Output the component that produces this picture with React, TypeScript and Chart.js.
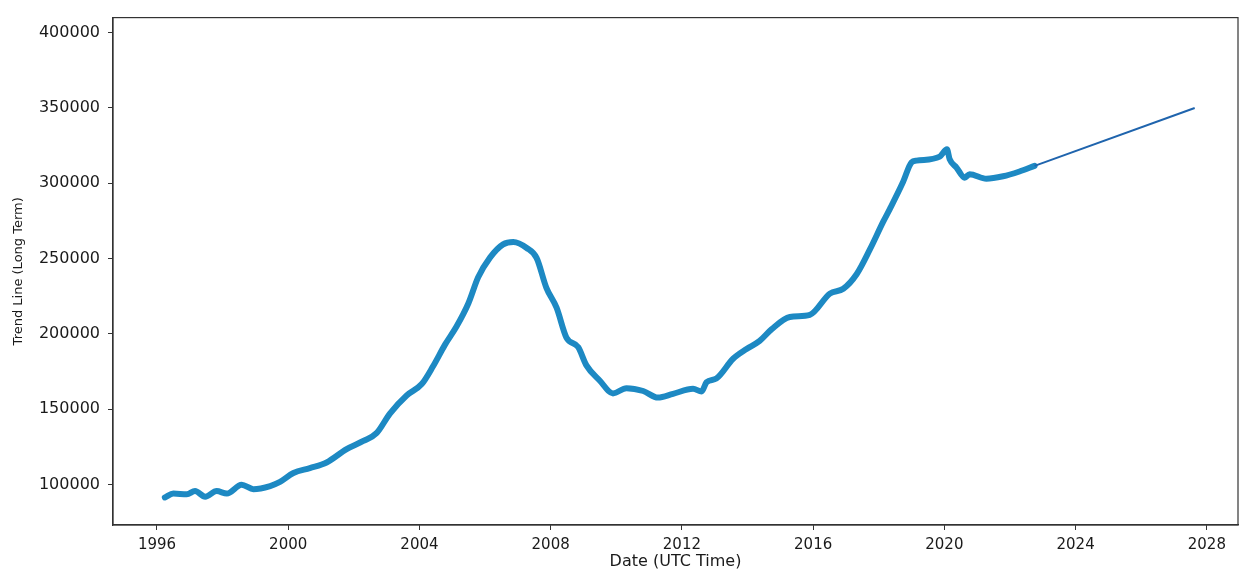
import React, { useEffect, useRef } from "react";
import { Chart, registerables } from "chart.js";

Chart.register(...registerables);

// Long-term trend
const mainYears = [
  1996.24, 1996.5, 1996.91, 1997.16, 1997.47, 1997.82, 1998.13, 1998.58, 1998.94, 1999.45,
  1999.75, 2000.16, 2000.66, 2001.17, 2001.78, 2002.29, 2002.7, 2003.1, 2003.61, 2004.07,
  2004.42, 2004.78, 2005.13, 2005.49, 2005.79, 2006.15, 2006.55, 2006.86, 2007.27, 2007.57,
  2007.87, 2008.18, 2008.48, 2008.84, 2009.09, 2009.5, 2009.9, 2010.31, 2010.82, 2011.27,
  2011.73, 2012.34, 2012.6, 2012.75, 2013.05, 2013.56, 2013.97, 2014.37, 2014.73, 2015.29,
  2015.9, 2016.51, 2016.92, 2017.33, 2017.73, 2018.14, 2018.34, 2018.74, 2019.0, 2019.15,
  2019.86, 2020.08, 2020.16, 2020.37, 2020.62, 2020.77, 2021.28, 2021.79, 2022.29, 2022.75,
];
const mainValues = [
  91300, 93900, 93400, 95600, 91800, 95500, 93900, 99700, 96800, 98900,
  101600, 107500, 110800, 114500, 123400, 128800, 134200, 147000, 159000, 166600,
  178600, 192800, 204800, 220100, 237500, 250600, 259400, 261000, 257000, 250400,
  230500, 217300, 197500, 191100, 179000, 168800, 160400, 163900, 162000, 157600,
  160100, 163500, 161700, 167800, 170300, 183400, 189900, 195300, 202900, 211100,
  212600, 226700, 229900, 239700, 256000, 274600, 283000, 300800, 313900, 315000,
  317700, 322500, 316000, 310400, 303700, 306000, 303000, 304600, 307800, 311500,
];

// Forecast trend line
const forecastYears = [2022.75, 2027.63];
const forecastValues = [311500, 350000];

const xTickYears = [1996, 2000, 2004, 2008, 2012, 2016, 2020, 2024, 2028];
const yTickValues = [100000, 150000, 200000, 250000, 300000, 350000, 400000];

const xMin = 1994.66;
const xMax = 2028.95;
const yMin = 73000;
const yMax = 410000;

const AXIS_COLOR = "#333333";
const TEXT_COLOR = "#1a1a1a";
const FONT = "'DejaVu Sans', sans-serif";

const framePlugin = {
  id: "frame",
  beforeDatasetsDraw(chart: any) {
    const { ctx, chartArea } = chart;
    const { left, top, right, bottom } = chartArea;
    ctx.save();
    ctx.strokeStyle = AXIS_COLOR;
    ctx.lineWidth = 1.2;
    ctx.strokeRect(left, top, right - left, bottom - top);
    ctx.restore();
  },
};

export default function App() {
  const canvasRef = useRef<HTMLCanvasElement | null>(null);

  useEffect(() => {
    if (!canvasRef.current) return;
    const chart = new Chart(canvasRef.current, {
      type: "line",
      data: {
        datasets: [
          {
            label: "Forecast",
            data: forecastYears.map((x, i) => ({ x, y: forecastValues[i] })),
            borderColor: "#1f64ad",
            borderWidth: 2,
            pointRadius: 0,
            fill: false,
            order: 0,
          },
          {
            label: "Trend Line (Long Term)",
            data: mainYears.map((x, i) => ({ x, y: mainValues[i] })),
            borderColor: "#1d89c3",
            borderWidth: 6,
            pointRadius: 0,
            fill: false,
            cubicInterpolationMode: "monotone",
            borderCapStyle: "round",
            borderJoinStyle: "round",
            order: 1,
          },
        ],
      },
      options: {
        animation: false,
        responsive: false,
        maintainAspectRatio: false,
        layout: { padding: { left: 11, top: 13, right: 6, bottom: 0 } },
        plugins: {
          legend: { display: false },
          tooltip: { enabled: false },
        },
        scales: {
          x: {
            type: "linear",
            min: xMin,
            max: xMax,
            afterBuildTicks: (s: any) => {
              s.ticks = xTickYears.map((v) => ({ value: v }));
            },
            afterFit: (s: any) => {
              s.height = 44;
            },
            ticks: {
              callback: (v: any) => String(v),
              color: TEXT_COLOR,
              font: { family: FONT, size: 15 },
              padding: 6,
              maxRotation: 0,
              autoSkip: false,
            },
            grid: {
              display: true,
              drawOnChartArea: false,
              drawTicks: true,
              tickLength: 5,
              color: AXIS_COLOR,
            },
            border: { display: true, color: AXIS_COLOR, width: 1.2 },
            title: {
              display: true,
              text: "Date (UTC Time)",
              color: TEXT_COLOR,
              font: { family: FONT, size: 16 },
              padding: { top: 0, bottom: -2 },
            },
          },
          y: {
            type: "linear",
            min: yMin,
            max: yMax,
            afterBuildTicks: (s: any) => {
              s.ticks = yTickValues.map((v) => ({ value: v }));
            },
            afterFit: (s: any) => {
              s.width = 102;
            },
            ticks: {
              callback: (v: any) => String(v),
              color: TEXT_COLOR,
              font: { family: FONT, size: 16 },
              padding: 8,
              autoSkip: false,
            },
            grid: {
              display: true,
              drawOnChartArea: false,
              drawTicks: true,
              tickLength: 5,
              color: AXIS_COLOR,
            },
            border: { display: true, color: AXIS_COLOR, width: 1.2 },
            title: {
              display: true,
              text: "Trend Line (Long Term)",
              color: TEXT_COLOR,
              font: { family: FONT, size: 13 },
              padding: { top: 0, bottom: 0 },
            },
          },
        },
      },
      plugins: [framePlugin],
    });
    return () => chart.destroy();
  }, []);

  return (
    <div style={{ position: "fixed", left: 0, top: 0, width: 1244, height: 569, background: "#ffffff" }}>
      <canvas ref={canvasRef} width={1244} height={569} style={{ width: 1244, height: 569, display: "block" }} />
    </div>
  );
}
